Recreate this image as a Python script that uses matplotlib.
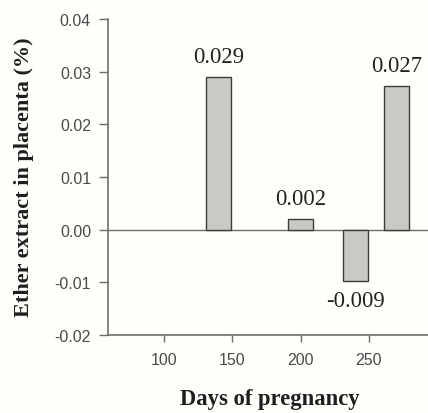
import numpy as np
import matplotlib.pyplot as plt

# Datos
dias = [140, 200, 240, 270]
valores = [0.029, 0.002, -0.0097, 0.0273]
etiquetas = ['0.029', '0.002', '-0.009', '0.027']
yticks = [-0.02, -0.01, 0.00, 0.01, 0.02, 0.03, 0.04]
xticks = [100, 150, 200, 250]

gris = '#6e6e6e'

fig = plt.figure( figsize = ( 4.28, 4.14 ), dpi = 100 )
fig.patch.set_facecolor( '#fefefb' )
ax = fig.add_axes( [ 0.2516, 0.1884, 0.7484, 0.7633 ] )
ax.set_facecolor( '#fefefb' )

ax.bar( dias, valores, width = 18.3, color = '#c9c9c5', edgecolor = '#3c3c3c', linewidth = 1.0, zorder = 3 )
ax.axhline( 0, color = gris, linewidth = 1.0, zorder = 2 )

for x, v, t in zip( dias, valores, etiquetas ) :
    if v >= 0 :
        ax.annotate( t, ( x, v ), xytext = ( 0, 7 ), textcoords = 'offset points',
                     ha = 'center', va = 'bottom', family = 'Liberation Serif', fontsize = 16.3, color = '#222222' )
    else :
        ax.annotate( t, ( x, v ), xytext = ( 0, -7 ), textcoords = 'offset points',
                     ha = 'center', va = 'top', family = 'Liberation Serif', fontsize = 16.3, color = '#222222' )

ax.set_xlim( 58.8, 293.2 )
ax.set_ylim( -0.02, 0.04 )
ax.set_xticks( xticks )
ax.set_yticks( yticks )
ax.set_yticklabels( [ '%.2f' % v for v in yticks ] )

for s in [ 'top', 'right' ] :
    ax.spines[ s ].set_visible( False )
for s in [ 'left', 'bottom' ] :
    ax.spines[ s ].set_color( gris )
    ax.spines[ s ].set_linewidth( 1.2 )

ax.tick_params( axis = 'y', length = 6.5, width = 1.0, color = gris, pad = 5.5,
                labelsize = 11.5, labelcolor = '#4a4a4a' )
ax.tick_params( axis = 'x', length = 5, width = 1.0, color = gris, pad = 7,
                labelsize = 11.5, labelcolor = '#4a4a4a' )
for lab in ax.get_xticklabels() + ax.get_yticklabels() :
    lab.set_family( 'Liberation Sans' )

fig.text( 24 / 428, 1 - 177 / 414, 'Ether extract in placenta (%)', rotation = 90,
          ha = 'center', va = 'center', family = 'Liberation Serif', fontweight = 'bold',
          fontsize = 16, color = '#1e1e1e' )
fig.text( 270 / 428, 1 - 400 / 414, 'Days of pregnancy', ha = 'center', va = 'center',
          family = 'Liberation Serif', fontweight = 'bold', fontsize = 16.3, color = '#1e1e1e' )

fig.savefig( 'out.png', dpi = 100, facecolor = fig.get_facecolor() )
